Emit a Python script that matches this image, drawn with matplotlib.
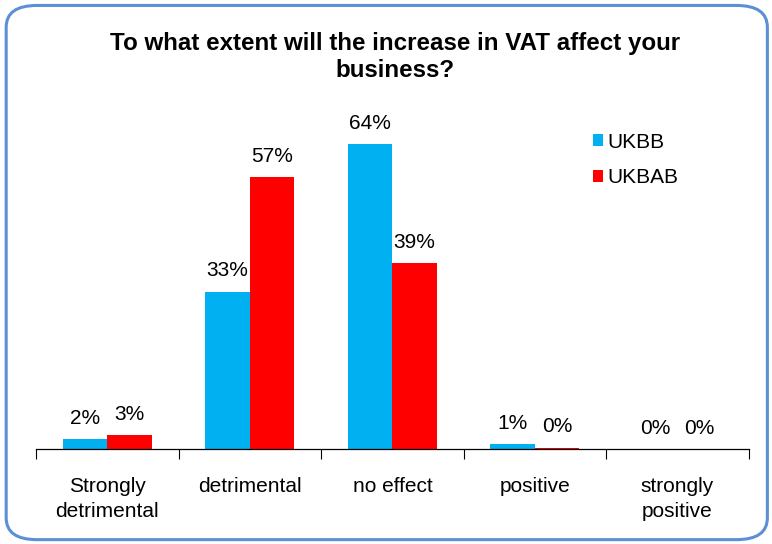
import matplotlib
matplotlib.use("Agg")
import matplotlib.pyplot as plt
from matplotlib.patches import FancyBboxPatch
import numpy as np

plt.rcParams['font.family'] = ['Liberation Sans', 'DejaVu Sans']

categories = ["Strongly\ndetrimental", "detrimental", "no effect", "positive", "strongly\npositive"]
ukbb = [2, 33, 64, 1, 0]
ukbab = [3, 57, 39, 0.3, 0]
series_names = ["UKBB", "UKBAB"]
colors = ["#00B0F0", "#FF0000"]

fig = plt.figure(figsize=(7.72, 5.44), dpi=100)

# rounded chart frame
frame = FancyBboxPatch((0.008, 0.008), 0.986, 0.982,
                       boxstyle="round,pad=0,rounding_size=0.04",
                       transform=fig.transFigure, facecolor="white",
                       edgecolor="#5B8FD6", linewidth=2.2, zorder=-1)
fig.patches.append(frame)

ax = fig.add_axes([0.0466, 0.1746, 0.9234, 0.614])
x = np.arange(len(categories))
w = 0.312
for vals, off, col, name in [(ukbb, -w / 2, colors[0], series_names[0]),
                             (ukbab, w / 2, colors[1], series_names[1])]:
    bars = ax.bar(x + off, vals, width=w, color=col, label=name)
    for b, v in zip(bars, vals):
        ax.annotate(f"{v:.0f}%", (b.get_x() + b.get_width() / 2, b.get_height()),
                    xytext=(0, 8), textcoords="offset points",
                    ha="center", va="bottom", fontsize=15)

ax.set_xlim(-0.5, len(categories) - 0.5)
ax.set_ylim(0, 70)
ax.set_yticks([])
for s in ["top", "right", "left"]:
    ax.spines[s].set_visible(False)
ax.spines["bottom"].set_color("#000000")
ax.spines["bottom"].set_linewidth(0.9)
ax.set_xticks(x)
ax.set_xticklabels(categories, fontsize=15, linespacing=1.4)
ax.tick_params(axis="x", which="major", length=0, pad=20)
ax.set_xticks(np.arange(-0.5, len(categories)), minor=True)
ax.tick_params(axis="x", which="minor", length=7, width=0.8, color="#000000")

leg = ax.legend(loc="upper left", bbox_to_anchor=(0.755, 1.003), frameon=False,
                fontsize=15, handlelength=0.5, handleheight=0.5,
                handletextpad=0.2, labelspacing=0.8)

fig.text(0.512, 0.895, "To what extent will the increase in VAT affect your\nbusiness?",
         ha="center", va="center", fontsize=17.4, fontweight="bold", linespacing=1.25)

fig.savefig("out.png", dpi=100)
